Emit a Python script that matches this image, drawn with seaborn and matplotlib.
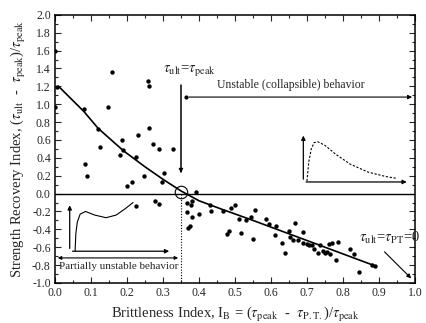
import numpy as np
import pandas as pd
import matplotlib
matplotlib.use("Agg")
import matplotlib.pyplot as plt
import seaborn as sns
from matplotlib.ticker import MultipleLocator

# ---- data ----
bi = [0.0, 0.007, 0.0, 0.081, 0.158, 0.146, 0.12, 0.125, 0.187, 0.23,
      0.258, 0.262, 0.262, 0.273, 0.29, 0.328, 0.083, 0.09, 0.182, 0.19,
      0.224, 0.2, 0.215, 0.224, 0.247, 0.304, 0.298, 0.277, 0.288, 0.393,
      0.367, 0.38, 0.378, 0.367, 0.38, 0.401, 0.431, 0.434, 0.466, 0.37,
      0.375,
      0.489, 0.50, 0.511, 0.53, 0.545, 0.555, 0.585, 0.595, 0.613, 0.667,
      0.65, 0.69, 0.477, 0.484, 0.518, 0.549, 0.61, 0.63, 0.64, 0.652,
      0.66, 0.675, 0.69, 0.70, 0.705, 0.715, 0.72, 0.73, 0.735, 0.745,
      0.75, 0.755, 0.76, 0.77, 0.765, 0.78, 0.785, 0.82, 0.83, 0.845,
      0.88, 0.89]
sri = [1.59, 1.19, 0.97, 0.95, 1.36, 0.97, 0.72, 0.52, 0.60, 0.65,
       1.26, 1.20, 0.73, 0.56, 0.50, 0.50, 0.33, 0.20, 0.43, 0.49,
       0.41, 0.08, 0.13, -0.14, 0.20, 0.235, 0.13, -0.08, -0.12, 0.02,
       -0.10, -0.08, -0.13, -0.21, -0.26, -0.23, -0.13, -0.19, -0.19, -0.38,
       -0.36,
       -0.16, -0.13, -0.28, -0.29, -0.26, -0.18, -0.28, -0.34, -0.36, -0.33,
       -0.42, -0.43, -0.45, -0.42, -0.44, -0.51, -0.46, -0.55, -0.66, -0.49,
       -0.52, -0.52, -0.55, -0.56, -0.58, -0.57, -0.62, -0.66, -0.58, -0.64,
       -0.67, -0.65, -0.56, -0.55, -0.68, -0.74, -0.54, -0.62, -0.68, -0.88,
       -0.80, -0.81]

# trend curve
curve_x = [0.01, 0.08, 0.12, 0.19, 0.25, 0.30, 0.35, 0.40, 0.46, 0.55, 0.65, 0.75, 0.89]
curve_y = [1.20, 0.92, 0.73, 0.48, 0.30, 0.16, 0.03, -0.08, -0.17, -0.30, -0.45, -0.60, -0.81]

# inset sketch curves (in data coordinates of the main axes)
collapse_x = [0.700, 0.705, 0.712, 0.72, 0.73, 0.75, 0.78, 0.82, 0.87, 0.92, 0.95]
collapse_y = [0.14, 0.35, 0.50, 0.57, 0.58, 0.54, 0.44, 0.33, 0.24, 0.19, 0.17]
partial_x = [0.056, 0.058, 0.062, 0.07, 0.085, 0.11, 0.142, 0.17, 0.195, 0.217]
partial_y = [-0.64, -0.45, -0.32, -0.23, -0.20, -0.24, -0.27, -0.24, -0.17, -0.10]

sns.set_style("ticks")
plt.rcParams["font.family"] = ["Liberation Serif", "DejaVu Serif"]
plt.rcParams["mathtext.fontset"] = "stix"
plt.rcParams["axes.unicode_minus"] = False

fig = plt.figure(figsize=(4.26, 3.23), dpi=100)
ax = fig.add_axes([0.129, 0.124, 0.845, 0.830])

df = pd.DataFrame({"bi": bi, "sri": sri})
sns.scatterplot(data=df, x="bi", y="sri", ax=ax, color="black", s=10,
                edgecolor="black", linewidth=0, zorder=4)
cdf = pd.DataFrame({"x": curve_x, "y": curve_y})
sns.lineplot(data=cdf, x="x", y="y", ax=ax, color="black", lw=1.2,
             sort=False, estimator=None, zorder=3)

# zero line
ax.axhline(0.0, color="black", lw=1.0, zorder=2)
# vertical boundary line
ax.plot([0.35, 0.35], [1.22, 0.24], color="black", lw=1.1)
ax.annotate("", xy=(0.35, 0.20), xytext=(0.35, 0.30),
            arrowprops=dict(arrowstyle="-|>", color="black", lw=0.8,
                            mutation_scale=6))
ax.plot([0.35, 0.35], [0.0, -1.0], color="black", lw=0.8, ls=(0, (1, 1.5)))
# circle at crossing
ax.plot([0.35], [0.02], marker="o", ms=9, mfc="none", mec="black", mew=0.8)

# unstable arrow
ax.annotate("", xy=(1.0, 1.08), xytext=(0.365, 1.08),
            arrowprops=dict(arrowstyle="-|>", color="black", lw=0.8,
                            mutation_scale=6))
ax.plot([0.365], [1.08], "ko", ms=2)
ax.text(0.655, 1.15, "Unstable (collapsible) behavior", ha="center",
        va="bottom", fontsize=8.5)
ax.text(0.375, 1.29, r"$\tau_{\rm ult}$=$\tau_{\rm peak}$", ha="center",
        va="bottom", fontsize=10.5)

# partially unstable arrow
ax.annotate("", xy=(0.0, -0.72), xytext=(0.35, -0.72),
            arrowprops=dict(arrowstyle="<|-|>", color="black", lw=0.8,
                            mutation_scale=5))
ax.text(0.178, -0.82, "Partially unstable behavior", ha="center",
        va="center", fontsize=8)

# right-hand label and arrow
ax.text(0.93, -0.50, r"$\tau_{\rm ult}$=$\tau_{\rm PT}$=0", ha="center",
        va="center", fontsize=10.5)
ax.annotate("", xy=(0.995, -0.97), xytext=(0.91, -0.63),
            arrowprops=dict(arrowstyle="-|>", color="black", lw=0.8,
                            mutation_scale=6))

# inset sketch: collapsible
ax.annotate("", xy=(0.69, 0.68), xytext=(0.69, 0.13),
            arrowprops=dict(arrowstyle="-|>", color="black", lw=0.9,
                            mutation_scale=6))
ax.annotate("", xy=(0.985, 0.13), xytext=(0.69, 0.13),
            arrowprops=dict(arrowstyle="-|>", color="black", lw=0.9,
                            mutation_scale=6))
ax.plot(collapse_x, collapse_y, color="black", lw=0.8, ls=(0, (2, 1.5)))

# inset sketch: partially unstable
ax.annotate("", xy=(0.041, -0.10), xytext=(0.041, -0.645),
            arrowprops=dict(arrowstyle="-|>", color="black", lw=0.9,
                            mutation_scale=6))
ax.annotate("", xy=(0.325, -0.645), xytext=(0.041, -0.645),
            arrowprops=dict(arrowstyle="-|>", color="black", lw=0.9,
                            mutation_scale=6))
ax.plot(partial_x, partial_y, color="black", lw=0.8)

ax.set_xlim(0.0, 1.0)
ax.set_ylim(-1.0, 2.0)
ax.xaxis.set_major_locator(MultipleLocator(0.1))
ax.xaxis.set_minor_locator(MultipleLocator(0.05))
ax.yaxis.set_major_locator(MultipleLocator(0.2))
ax.yaxis.set_minor_locator(MultipleLocator(0.1))
ax.xaxis.set_major_formatter(matplotlib.ticker.FormatStrFormatter("%.1f"))
ax.yaxis.set_major_formatter(matplotlib.ticker.FormatStrFormatter("%.1f"))
ax.tick_params(which="both", direction="in", top=True, right=True,
               labelsize=8.5, width=0.8, pad=3)
ax.tick_params(which="major", length=4)
ax.tick_params(which="minor", length=2)
for s in ax.spines.values():
    s.set_linewidth(1.1)
    s.set_color("black")

ax.set_xlabel(r"Brittleness Index, I$_{\rm B}$ = ($\tau_{\rm peak}$  -  $\tau_{\rm P.T.}$)/$\tau_{\rm peak}$",
              fontsize=10.5, labelpad=4)
ax.set_ylabel(r"Strength Recovery Index, ($\tau_{\rm ult}$  -  $\tau_{\rm peak}$)/$\tau_{\rm peak}$",
              fontsize=10.5, labelpad=3)

fig.savefig("out.png", dpi=100)
